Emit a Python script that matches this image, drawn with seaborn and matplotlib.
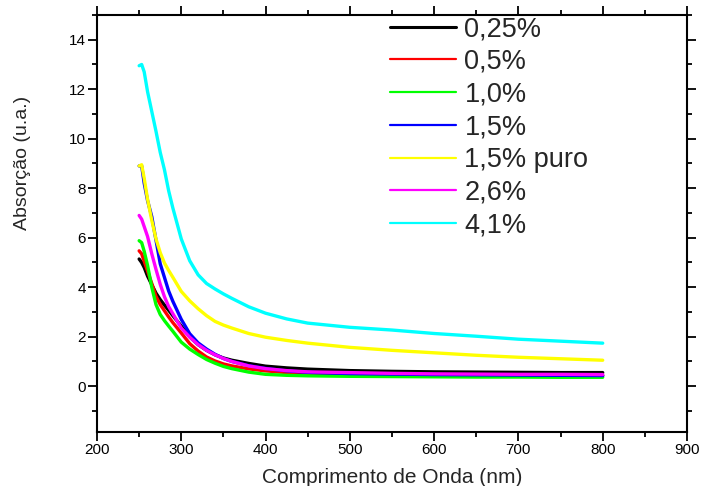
import numpy as np
import pandas as pd
import matplotlib
matplotlib.use("Agg")
import matplotlib.pyplot as plt
from matplotlib.ticker import MultipleLocator
from matplotlib.lines import Line2D
import seaborn as sns

# ---- data ----
wavelength = [250, 253, 256, 260, 265, 270, 275, 280, 285, 290, 300, 310, 320, 330,
              340, 350, 360, 380, 400, 425, 450, 500, 550, 600, 650, 700, 750, 800]

s_025 = [5.14, 5.00, 4.80, 4.45, 4.10, 3.76, 3.50, 3.28, 3.07, 2.85, 2.43, 2.00, 1.68, 1.45,
         1.27, 1.14, 1.05, 0.92, 0.81, 0.74, 0.69, 0.63, 0.60, 0.58, 0.57, 0.56, 0.55, 0.55]
s_05 = [5.47, 5.35, 5.05, 4.65, 4.15, 3.63, 3.30, 3.05, 2.80, 2.57, 2.15, 1.72, 1.42, 1.18,
        1.02, 0.90, 0.82, 0.70, 0.62, 0.55, 0.51, 0.48, 0.46, 0.45, 0.44, 0.44, 0.43, 0.43]
s_10 = [5.88, 5.80, 5.45, 4.88, 4.00, 3.30, 2.90, 2.65, 2.43, 2.22, 1.78, 1.50, 1.28, 1.08,
        0.93, 0.80, 0.71, 0.57, 0.48, 0.44, 0.42, 0.40, 0.39, 0.38, 0.37, 0.37, 0.36, 0.36]
s_15 = [8.90, 8.90, 8.20, 7.50, 6.85, 5.90, 4.95, 4.40, 3.85, 3.43, 2.70, 2.12, 1.75, 1.50,
        1.29, 1.12, 1.00, 0.83, 0.72, 0.62, 0.56, 0.51, 0.49, 0.47, 0.46, 0.45, 0.44, 0.43]
s_15p = [8.90, 8.95, 8.40, 7.55, 6.70, 5.95, 5.40, 4.98, 4.68, 4.40, 3.83, 3.45, 3.13, 2.85,
         2.62, 2.47, 2.35, 2.13, 1.98, 1.85, 1.74, 1.57, 1.45, 1.35, 1.25, 1.17, 1.11, 1.05]
s_26 = [6.90, 6.75, 6.45, 6.05, 5.35, 4.72, 4.12, 3.62, 3.22, 2.93, 2.35, 1.98, 1.68, 1.45,
        1.27, 1.12, 1.00, 0.82, 0.71, 0.63, 0.58, 0.55, 0.52, 0.50, 0.49, 0.48, 0.48, 0.47]
s_41 = [12.95, 13.00, 12.70, 11.90, 11.10, 10.30, 9.45, 8.75, 7.90, 7.20, 5.95, 5.07, 4.50, 4.15,
        3.93, 3.73, 3.55, 3.21, 2.95, 2.72, 2.55, 2.38, 2.27, 2.13, 2.02, 1.90, 1.82, 1.74]

labels = ["0,25%", "0,5%", "1,0%", "1,5%", "1,5% puro", "2,6%", "4,1%"]
series = [s_025, s_05, s_10, s_15, s_15p, s_26, s_41]
colors = ["#000000", "#FF0000", "#00FF00", "#0000FF", "#FFFF00", "#FF00FF", "#00FFFF"]

frames = []
for lab, vals in zip(labels, series):
    frames.append(pd.DataFrame({"wl": wavelength, "abs": vals, "amostra": lab}))
df = pd.concat(frames, ignore_index=True)

sns.set_theme(style="ticks")
plt.rcParams["font.family"] = ["Liberation Sans", "DejaVu Sans"]

fig = plt.figure(figsize=(7.05, 4.86), dpi=100)
ax = fig.add_axes([97 / 705, 1 - 432 / 486, 590 / 705, 417 / 486])

sns.lineplot(data=df, x="wl", y="abs", hue="amostra", hue_order=labels,
             palette=colors, linewidth=2.4, sort=False, estimator=None,
             ax=ax, legend=False)

ax.set_xlim(200, 900)
ax.set_ylim(-1.85, 15.0)
ax.xaxis.set_major_locator(MultipleLocator(100))
ax.xaxis.set_minor_locator(MultipleLocator(50))
ax.yaxis.set_major_locator(MultipleLocator(2))
ax.yaxis.set_minor_locator(MultipleLocator(1))
ax.tick_params(which="both", direction="out", top=True, right=True,
               labeltop=False, labelright=False, width=1.3, colors="black",
               labelsize=11, pad=1.5)
ax.tick_params(which="major", length=6.5)
ax.tick_params(which="minor", length=3.5)
for sp in ax.spines.values():
    sp.set_linewidth(1.5)
    sp.set_color("black")

ax.set_xlabel("Comprimento de Onda (nm)", fontsize=15, labelpad=8)
ax.set_ylabel("Absorção (u.a.)", fontsize=14)
ax.yaxis.set_label_coords(-0.112, 0.646)

handles = [Line2D([0], [0], color=c, lw=2.2 if i == 0 else 1.6) for i, c in enumerate(colors)]
ax.legend(handles, labels, loc="upper left", frameon=False,
          bbox_to_anchor=(390 / 705, 1 - 16 / 486), bbox_transform=fig.transFigure,
          fontsize=19.5, handlelength=2.45, handletextpad=0.3, labelspacing=0.25,
          borderpad=0, borderaxespad=0)

fig.savefig("out.png", dpi=100)
